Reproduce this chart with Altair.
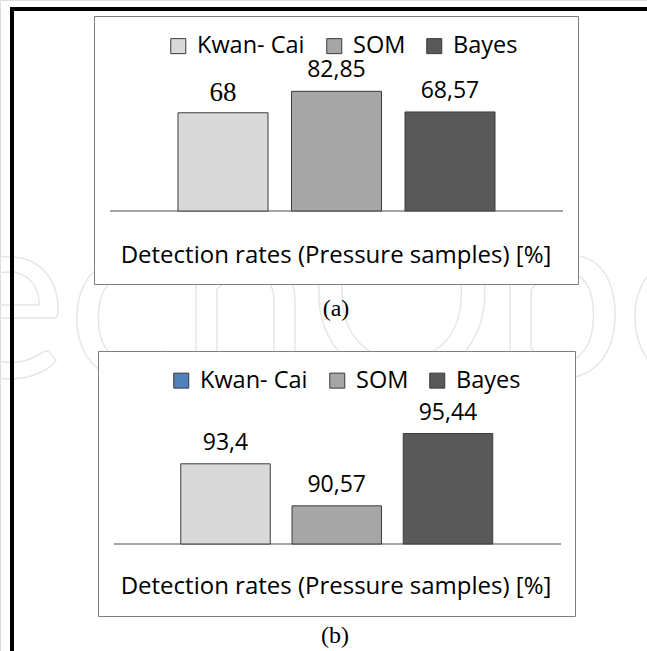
import altair as alt
import pandas as pd

# ---- data -------------------------------------------------------------
methods = ["Kwan- Cai", "SOM", "Bayes"]
rates_a = [68, 82.85, 68.57]
labels_a = ["68", "82,85", "68,57"]
rates_b = [93.4, 90.57, 95.44]
labels_b = ["93,4", "90,57", "95,44"]
bar_colors = ["#d9d9d9", "#a6a6a6", "#595959"]
legend_colors_b = ["#4f81bd", "#a6a6a6", "#595959"]
axis_title = "Detection rates (Pressure samples) [%]"
captions = ["(a)", "(b)"]
watermark = "echOpen"

SANS = "Open Sans"
SERIF = "Liberation Serif"

df_a = pd.DataFrame({"method": methods, "rate": rates_a, "label": labels_a})
df_b = pd.DataFrame({"method": methods, "rate": rates_b, "label": labels_b})
one = alt.Data(values=[{"k": 0}])

# ---- scales (pixel ranges inside the single 647x651 canvas) -----------
xa = alt.Scale(domain=methods, range=[166.25, 506.75], paddingInner=0.207, paddingOuter=0.1035)
ya = alt.Scale(domain=[0, 90], range=[211, 81])
xb = alt.Scale(domain=methods, range=[169.9, 503.6], paddingInner=0.1955, paddingOuter=0.0978)
yb = alt.Scale(domain=[88, 96], range=[544, 425.2])


def legend(x, y):
    return alt.Legend(
        orient="none", legendX=x, legendY=y, direction="horizontal", title=None,
        symbolType="square", symbolSize=225, symbolStrokeColor="#3a3a3a",
        symbolStrokeWidth=1, symbolOpacity=1, labelFont=SANS, labelFontSize=23.5,
        labelColor="black", labelOffset=7, columnPadding=17, padding=0, labelLimit=0,
    )


# ---- decorations ------------------------------------------------------
mark_wm = alt.Chart(one).mark_text(
    text=watermark, font="Lato", fontSize=235, fontWeight=400, fillOpacity=0,
    stroke="#e5e5e5", strokeWidth=1.3, align="left", baseline="alphabetic",
).encode(x=alt.value(-57), y=alt.value(377))

box_a = alt.Chart(one).mark_rect(fill="white", stroke="#7f7f7f", strokeWidth=1).encode(
    x=alt.value(94.5), x2=alt.value(578.5), y=alt.value(16.5), y2=alt.value(284.5))
box_b = alt.Chart(one).mark_rect(fill="white", stroke="#7f7f7f", strokeWidth=1).encode(
    x=alt.value(98.5), x2=alt.value(575.5), y=alt.value(351.5), y2=alt.value(616.5))

frame_top = alt.Chart(one).mark_rule(color="black", strokeWidth=4).encode(
    x=alt.value(10), x2=alt.value(647), y=alt.value(9))
frame_left = alt.Chart(one).mark_rule(color="black", strokeWidth=4).encode(
    x=alt.value(12), y=alt.value(7), y2=alt.value(651))

# ---- panel (a) --------------------------------------------------------
base_a = alt.Chart(one).mark_rule(color="#868686", strokeWidth=1.5).encode(
    x=alt.value(110), x2=alt.value(563), y=alt.Y(datum=0, scale=ya, axis=None))

bars_a = alt.Chart(df_a).mark_bar(stroke="#3c3c3c", strokeWidth=1).encode(
    x=alt.X("method:N", scale=xa, axis=None),
    y=alt.Y("rate:Q", scale=ya, axis=None),
    y2=alt.datum(0),
    color=alt.Color("method:N", scale=alt.Scale(domain=methods, range=bar_colors),
                    legend=legend(166.5, 34)),
)

lab_a_serif = alt.Chart(df_a).transform_filter(alt.datum.method == methods[0]).mark_text(
    font=SERIF, fontSize=27, baseline="alphabetic", dy=-12, color="black"
).encode(x=alt.X("method:N", scale=xa, axis=None), y=alt.Y("rate:Q", scale=ya, axis=None),
         text="label:N")
lab_a_sans = alt.Chart(df_a).transform_filter(alt.datum.method != methods[0]).mark_text(
    font=SANS, fontSize=23, baseline="alphabetic", dy=-14, color="black"
).encode(x=alt.X("method:N", scale=xa, axis=None), y=alt.Y("rate:Q", scale=ya, axis=None),
         text="label:N")

title_a = alt.Chart(alt.Data(values=[{"t": axis_title}])).mark_text(
    font=SANS, fontSize=24, color="black", baseline="middle"
).encode(x=alt.value(336), y=alt.value(256), text="t:N")
cap_a = alt.Chart(alt.Data(values=[{"t": captions[0]}])).mark_text(
    font=SERIF, fontSize=24, color="black", baseline="middle"
).encode(x=alt.value(336), y=alt.value(309), text="t:N")

# ---- panel (b) --------------------------------------------------------
base_b = alt.Chart(one).mark_rule(color="#868686", strokeWidth=1.5).encode(
    x=alt.value(114), x2=alt.value(561), y=alt.Y(datum=88, scale=yb, axis=None))

bars_b = alt.Chart(df_b).mark_bar(stroke="#3c3c3c", strokeWidth=1).encode(
    x=alt.X("method:N", scale=xb, axis=None),
    y=alt.Y("rate:Q", scale=yb, axis=None),
    y2=alt.datum(88),
    color=alt.Color("method:N", scale=alt.Scale(domain=methods, range=bar_colors), legend=None),
)

legend_b = alt.Chart(df_b).mark_bar(opacity=0, stroke="#3c3c3c").encode(
    x=alt.X("method:N", scale=xb, axis=None),
    y=alt.Y("rate:Q", scale=yb, axis=None),
    y2=alt.datum(88),
    color=alt.Color("method:N", scale=alt.Scale(domain=methods, range=legend_colors_b),
                    legend=legend(169.5, 368.5)),
)

lab_b = alt.Chart(df_b).mark_text(
    font=SANS, fontSize=23, baseline="alphabetic", dy=-14, color="black"
).encode(x=alt.X("method:N", scale=xb, axis=None), y=alt.Y("rate:Q", scale=yb, axis=None),
         text="label:N")

title_b = alt.Chart(alt.Data(values=[{"t": axis_title}])).mark_text(
    font=SANS, fontSize=24, color="black", baseline="middle"
).encode(x=alt.value(336), y=alt.value(587), text="t:N")
cap_b = alt.Chart(alt.Data(values=[{"t": captions[1]}])).mark_text(
    font=SERIF, fontSize=24, color="black", baseline="middle"
).encode(x=alt.value(335), y=alt.value(636), text="t:N")

chart = alt.layer(
    mark_wm, box_a, box_b, frame_top, frame_left,
    base_a, bars_a, lab_a_serif, lab_a_sans, title_a, cap_a,
    base_b, legend_b, bars_b, lab_b, title_b, cap_b,
).resolve_scale(
    x="independent", y="independent", color="independent"
).resolve_legend(color="independent").properties(
    width=647, height=651, padding=0, autosize=alt.AutoSizeParams(type="none")
).configure_view(stroke=None).configure(background="white")

chart.save("out.html", embed_options={"renderer": "svg", "actions": False})
